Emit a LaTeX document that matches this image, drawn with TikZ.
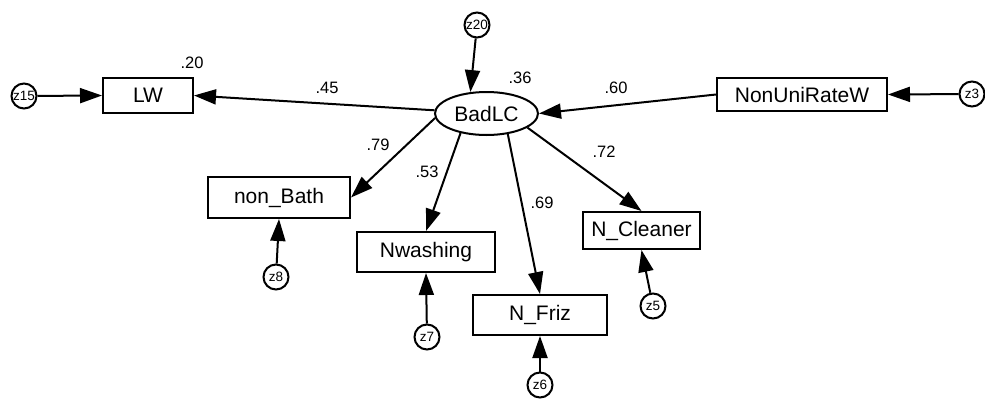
\documentclass[tikz,border=0pt]{standalone}
\usepackage{fontspec}
\setmainfont{Liberation Sans}
\usetikzlibrary{arrows.meta,shapes.geometric}
\begin{document}
\begin{tikzpicture}[x=1pt,y=-1pt,
 var/.style={draw,line width=2pt,rectangle,inner sep=0pt,font=\fontsize{21}{25}\selectfont},
 lat/.style={draw,line width=2pt,ellipse,minimum width=103pt,minimum height=43pt,inner sep=0pt,font=\fontsize{21}{25}\selectfont},
 err/.style={draw,line width=2pt,circle,minimum size=25pt,inner sep=0pt,font=\fontsize{13.5}{15}\selectfont},
 coef/.style={font=\fontsize{16.5}{19}\selectfont,inner sep=0pt},
 conn/.style={line width=2pt,-{Triangle[length=22pt,width=15pt]}}]
\useasboundingbox (0,0) rectangle (985,399);

\node[var,minimum width=90pt,minimum height=35pt] (LW) at (148,95.5) {LW};
\node[var,minimum width=170pt,minimum height=33pt] (nonuni) at (802,94.5) {NonUniRateW};
\node[var,minimum width=142pt,minimum height=41pt] (bath) at (279,197.5) {non\_Bath};
\node[var,minimum width=138pt,minimum height=40pt] (wash) at (426,252) {Nwashing};
\node[var,minimum width=134pt,minimum height=40pt] (friz) at (540,315) {N\_Friz};
\node[var,minimum width=117pt,minimum height=37pt] (clean) at (641.5,230.5) {N\_Cleaner};
\node[lat] (bad) at (486.5,113.5) {BadLC};

\node[err] (z15) at (24,96) {z15};
\node[err] (z20) at (477,25) {z20};
\node[err] (z3) at (972,94) {z3};
\node[err] (z8) at (276,277) {z8};
\node[err] (z7) at (427,337) {z7};
\node[err] (z6) at (540,385) {z6};
\node[err] (z5) at (653,306) {z5};

\draw[conn] (z15) -- (LW.west);
\draw[conn] (z20) -- (bad.127);
\draw[conn] (z3) -- (nonuni.east);
\draw[conn] (bad) -- (LW.east);
\draw[conn] (nonuni.west) -- (bad.east);
\draw[conn] (bad.185) -- (bath.east);
\draw[conn] (bad.217) -- (wash.north);
\draw[conn] (bad.316) -- (friz.north);
\draw[conn] (bad.341) -- (clean.north);
\draw[conn] (z8) -- (bath.south);
\draw[conn] (z7) -- (wash.south);
\draw[conn] (z6) -- (friz.south);
\draw[conn] (z5) -- (clean.south);

\node[coef] (c20) at (192,63) {.20};
\node[coef] (c36) at (520,78) {.36};
\node[coef] (c45) at (327,88) {.45};
\node[coef] (c60) at (616,88) {.60};
\node[coef] (c79) at (378,145) {.79};
\node[coef] (c53) at (427,172) {.53};
\node[coef] (c69) at (542,203) {.69};
\node[coef] (c72) at (604,152) {.72};
\end{tikzpicture}
\end{document}
